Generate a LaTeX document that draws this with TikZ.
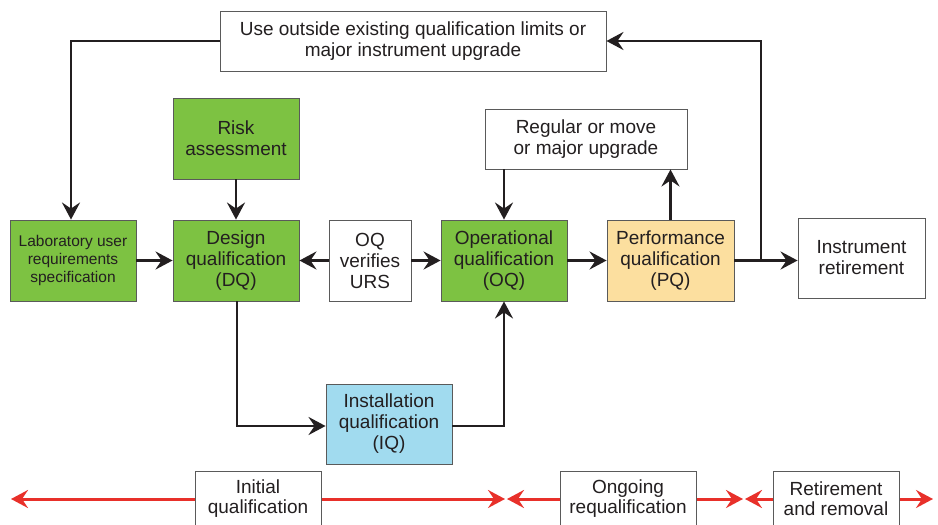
\documentclass[tikz,border=0pt]{standalone}
\usepackage{fontspec}
\setmainfont{Liberation Sans}
\usetikzlibrary{arrows.meta}
\definecolor{grn}{HTML}{7DC242}
\definecolor{ylw}{HTML}{FCDF9F}
\definecolor{blu}{HTML}{A1DBEF}
\definecolor{ink}{HTML}{231F20}
\definecolor{edge}{HTML}{5A5A5A}
\definecolor{redl}{HTML}{E8302A}
\tikzset{
  box/.style={draw=edge, line width=0.9pt, text=ink, align=center, inner sep=0pt,
     font=\fontsize{19}{21}\selectfont},
  gbox/.style={box, fill=grn},
  smalltext/.style={font=\fontsize{15.5}{18}\selectfont},
  conn/.style={draw=ink, line width=2.8pt, -{Stealth[length=17pt,width=18pt,inset=6pt]}},
  redarr/.style={draw=redl, line width=3pt, {Stealth[length=17pt,width=18pt,inset=6pt]}-{Stealth[length=17pt,width=18pt,inset=6pt]}},
  lbl/.style={text=ink, align=center, font=\fontsize{19}{20}\selectfont}
}
\begin{document}
\begin{tikzpicture}[x=1pt,y=-1pt]
\useasboundingbox (0,0) rectangle (938,525);
\fill[white] (0,0) rectangle (938,525);

\node[box, minimum width=386pt, minimum height=60pt] (top) at (413,41)
  {Use outside existing qualification limits or\\major instrument upgrade};
\node[gbox, minimum width=126pt, minimum height=81pt] (risk) at (236,138.5) {Risk\\assessment};
\node[gbox, smalltext, minimum width=126pt, minimum height=81pt] (urs) at (73,260.5)
  {Laboratory user\\requirements\\specification};
\node[gbox, minimum width=126pt, minimum height=81pt] (dq) at (236,260.5) {Design\\qualification\\(DQ)};
\node[box, fill=white, minimum width=82pt, minimum height=81pt] (ver) at (370,260.5) {OQ\\verifies\\URS};
\node[gbox, minimum width=126pt, minimum height=81pt] (oq) at (504,260.5) {Operational\\qualification\\(OQ)};
\node[box, fill=ylw, minimum width=127pt, minimum height=81pt] (pq) at (670.5,260.5) {Performance\\qualification\\(PQ)};
\node[box, fill=white, minimum width=202pt, minimum height=60pt] (reg) at (586,139) {Regular or move\\or major upgrade};
\node[box, fill=white, minimum width=127pt, minimum height=80pt] (ret) at (861.5,258) {Instrument\\retirement};
\node[box, fill=blu, minimum width=126pt, minimum height=80pt] (iq) at (389,424) {Installation\\qualification\\(IQ)};

% connectors
\coordinate (c1) at (71,41);
\draw[conn] (top.west) -- (c1) -- (c1 |- urs.north);
\draw[conn] (risk.south) -- (dq.north);
\draw[conn] (urs.east) -- (dq.west);
\draw[conn] (ver.west) -- (dq.east);
\draw[conn] (ver.east) -- (oq.west);
\draw[conn] (oq.east) -- (pq.west);
\coordinate (c2) at (504,169);
\draw[conn] (reg.south -| c2) -- (oq.north);
\draw[conn] (pq.north) -- (pq.north |- reg.south);
\coordinate (c3) at (761,260.5);
\draw[conn] (pq.east) -- (pq.east -| ret.west);
\draw[conn] (c3) -- (761,41) -- (top.east);
\coordinate (c4) at (237,426);
\draw[conn] (dq.south -| c4) -- (c4) -- (c4 -| iq.west);
\coordinate (c5) at (504,426);
\draw[conn] (c5 -| iq.east) -- (c5) -- (oq.south);

% bottom timeline
\coordinate (r0) at (11,499);
\coordinate (r1) at (505,499);
\coordinate (r2) at (507,499);
\coordinate (r3) at (743,499);
\coordinate (r4) at (745,499);
\coordinate (r5) at (933,499);
\draw[redarr] (r0) -- (r1);
\draw[redarr] (r2) -- (r3);
\draw[redarr] (r4) -- (r5);
\draw[draw=edge, line width=0.9pt, fill=white] (195,471) rectangle (321,535);
\draw[draw=edge, line width=0.9pt, fill=white] (560,471) rectangle (696,535);
\draw[draw=edge, line width=0.9pt, fill=white] (773,471) rectangle (899,535);
\node[lbl] (ini) at (258,499) {Initial\\qualification};
\node[lbl] (ong) at (628,499) {Ongoing\\requalification};
\node[lbl] (rr) at (836,499) {Retirement\\and removal};
\end{tikzpicture}
\end{document}
